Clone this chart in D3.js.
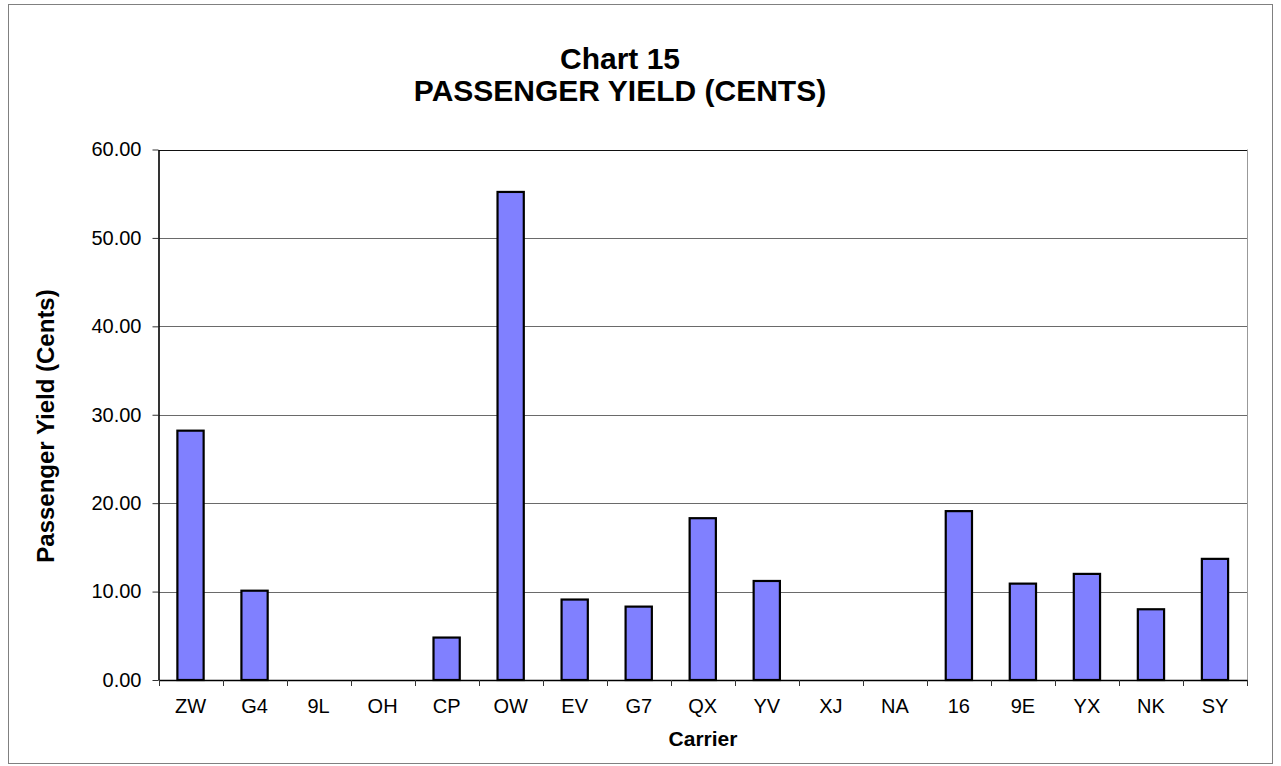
<!DOCTYPE html>
<html>
<head>
<meta charset="utf-8">
<script src="https://cdn.jsdelivr.net/npm/d3@7"></script>
<style>
  html, body { margin: 0; padding: 0; background: #fff; }
  svg { display: block; font-family: Arial, "Liberation Sans", sans-serif; }
</style>
</head>
<body>
<svg id="chart" width="1281" height="766"></svg>
<script>
const carriers = ["ZW","G4","9L","OH","CP","OW","EV","G7","QX","YV","XJ","NA","16","9E","YX","NK","SY"];
const yieldCents = [28.2, 10.1, 0, 0, 4.8, 55.2, 9.1, 8.3, 18.3, 11.2, 0, 0, 19.1, 10.9, 12.0, 8.0, 13.7];
const yTicks = [0, 10, 20, 30, 40, 50, 60];
const titleLines = ["Chart 15", "PASSENGER YIELD (CENTS)"];
const xTitle = "Carrier";
const yTitle = "Passenger Yield (Cents)";

const svg = d3.select("#chart");
const m = {left: 158.5, right: 1247, top: 149.5, bottom: 680};
const FONT = "Arial, 'Liberation Sans', sans-serif";

// outer frame
svg.append("rect").attr("x", 8.5).attr("y", 4.5).attr("width", 1264).attr("height", 759)
  .attr("fill", "#fff").attr("stroke", "#808080").attr("stroke-width", 1);

const x = d3.scaleBand().domain(carriers).range([m.left, m.right]).paddingInner(0.59).paddingOuter(0.295);
const xTick = d3.scaleBand().domain(carriers).range([m.left, m.right]);
const y = d3.scaleLinear().domain([0, 60]).range([m.bottom, m.top]);

// gridlines
svg.append("g").selectAll("line").data(yTicks.filter(d => d > 0)).join("line")
  .attr("x1", m.left).attr("x2", m.right)
  .attr("y1", d => Math.round(y(d)) + 0.5).attr("y2", d => Math.round(y(d)) + 0.5)
  .attr("stroke", d => d === 60 ? "#111" : "#6a6a6a").attr("stroke-width", 1);

// right frame
svg.append("line").attr("x1", m.right + 0.5).attr("x2", m.right + 0.5).attr("y1", m.top).attr("y2", m.bottom)
  .attr("stroke", "#999");

// bars
svg.append("g").selectAll("rect").data(carriers.map((c, i) => ({c, v: yieldCents[i]})).filter(d => d.v > 0)).join("rect")
  .attr("x", d => x(d.c)).attr("width", x.bandwidth())
  .attr("y", d => y(d.v)).attr("height", d => y(0) - y(d.v))
  .attr("fill", "#8080ff").attr("stroke", "#000").attr("stroke-width", 2.2);

// y axis
const yAxis = d3.axisLeft(y).tickValues(yTicks).tickFormat(d3.format(".2f")).tickSizeInner(6).tickSizeOuter(0).tickPadding(11);
const gy = svg.append("g").attr("transform", `translate(${m.left},0)`).call(yAxis);
gy.select(".domain").attr("stroke", "#000").attr("stroke-width", 1.6);
gy.selectAll(".tick line").attr("stroke", "#333");
gy.selectAll(".tick text").attr("font-size", 20).attr("fill", "#000").attr("font-family", FONT);

// x axis
const xAxis = d3.axisBottom(xTick).tickSizeInner(0).tickSizeOuter(0).tickPadding(19);
const gx = svg.append("g").attr("transform", `translate(0,${m.bottom})`).call(xAxis);
gx.select(".domain").attr("stroke", "#000").attr("stroke-width", 1.6);
gx.selectAll(".tick text").attr("font-size", 20).attr("fill", "#000").attr("font-family", FONT);
// tick marks at category boundaries
svg.append("g").selectAll("line").data(carriers.map(c => xTick(c)).concat([m.right])).join("line")
  .attr("x1", d => Math.round(d) + 0.5).attr("x2", d => Math.round(d) + 0.5)
  .attr("y1", m.bottom).attr("y2", m.bottom + 6).attr("stroke", "#333");

// titles
const tg = svg.append("g").attr("font-weight", "bold").attr("fill", "#000").attr("text-anchor", "middle");
tg.append("text").attr("x", 620).attr("y", 69).attr("font-size", 30).text(titleLines[0]);
tg.append("text").attr("x", 620).attr("y", 101).attr("font-size", 30).text(titleLines[1]);

svg.append("text").attr("x", 703).attr("y", 746).attr("text-anchor", "middle")
  .attr("font-weight", "bold").attr("font-size", 21).text(xTitle);

svg.append("text").attr("transform", `translate(54,426) rotate(-90)`)
  .attr("text-anchor", "middle").attr("font-weight", "bold").attr("font-size", 24).text(yTitle);
</script>
</body>
</html>
